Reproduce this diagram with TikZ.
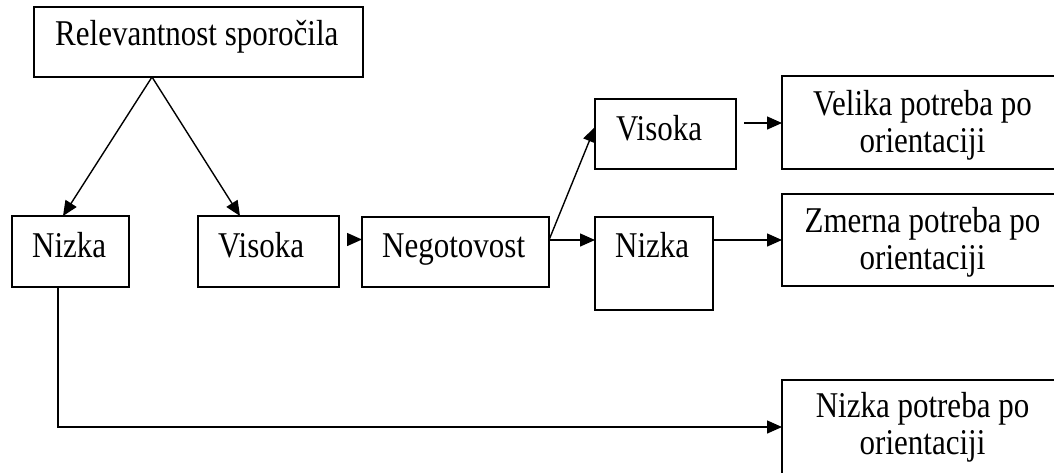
\documentclass[tikz,border=0pt]{standalone}
\usepackage{fontspec}
\setmainfont{Liberation Serif}
\usetikzlibrary{arrows.meta,calc}
% the lettering is set somewhat taller than wide
\newcommand{\tallword}[1]{\scalebox{1}[1.17]{#1}}
\begin{document}
\begin{tikzpicture}[x=1pt,y=-1pt,
  box/.style={draw, line width=1.6pt, inner sep=0pt, outer sep=0pt, anchor=north west},
  lbl/.style={font=\fontsize{31}{37}\selectfont, inner sep=0pt},
  twoline/.style={lbl, align=center, anchor=north},
  arr/.style={line width=1.4pt, -{Triangle[length=15pt,width=13pt]}}]
\useasboundingbox (0,0) rectangle (1054,472);

% boxes
\node[box, minimum width=329pt, minimum height=70pt] (rel)  at (34,7)   {};
\node[box, minimum width=117pt, minimum height=71pt] (nizL) at (12,216) {};
\node[box, minimum width=141pt, minimum height=71pt] (visM) at (198,216) {};
\node[box, minimum width=187pt, minimum height=70pt] (neg)  at (362,217) {};
\node[box, minimum width=141pt, minimum height=70pt] (visU) at (595,99)  {};
\node[box, minimum width=118pt, minimum height=93pt] (nizR) at (595,217) {};
\node[box, minimum width=281pt, minimum height=93pt] (vel)  at (782,76)  {};
\node[box, minimum width=281pt, minimum height=92pt] (zme)  at (782,194) {};
\node[box, minimum width=281pt, minimum height=94pt] (nizP) at (782,380) {};

% labels
\node[lbl, anchor=base west] (relT)  at ([xshift=21pt,yshift=-38pt]rel.north west)  {\tallword{Relevantnost sporočila}};
\node[lbl, anchor=base west] (nizLT) at ([xshift=20pt,yshift=-41pt]nizL.north west) {\tallword{Nizka}};
\node[lbl, anchor=base west] (visMT) at ([xshift=20pt,yshift=-41pt]visM.north west) {\tallword{Visoka}};
\node[lbl, anchor=base west] (negT)  at ([xshift=20pt,yshift=-40pt]neg.north west)  {\tallword{Negotovost}};
\node[lbl, anchor=base west] (visUT) at ([xshift=21pt,yshift=-41pt]visU.north west) {\tallword{Visoka}};
\node[lbl, anchor=base west] (nizRT) at ([xshift=20pt,yshift=-40pt]nizR.north west) {\tallword{Nizka}};
\node[twoline] (velT)  at ([yshift=-14pt]vel.north)  {\tallword{Velika potreba po}\\\tallword{orientaciji}};
\node[twoline] (zmeT)  at ([yshift=-13pt]zme.north)  {\tallword{Zmerna potreba po}\\\tallword{orientaciji}};
\node[twoline] (nizPT) at ([yshift=-12pt]nizP.north) {\tallword{Nizka potreba po}\\\tallword{orientaciji}};

% connectors
\draw[arr] ([xshift=118pt]rel.south west) -- ([xshift=51pt]nizL.north west);
\draw[arr] ([xshift=118pt]rel.south west) -- ([xshift=42pt]visM.north west);
\draw[arr, shorten <=8pt] ([yshift=12pt]visM.east) -- ([yshift=12pt]visM.east -| neg.west);
\draw[arr] ([yshift=12pt]neg.east) -- ([yshift=7pt]visU.west);
\draw[arr] ([yshift=12pt]neg.east) -- ([yshift=12pt]neg.east -| nizR.west);
\draw[arr, shorten <=8pt] ([yshift=11pt]visU.east) -- ([yshift=11pt]visU.east -| vel.west);
\draw[arr] (nizR.east |- zme.west) -- (zme.west);
\draw[arr] ([xshift=-12.5pt]nizL.south) |- (nizP.west);
\end{tikzpicture}
\end{document}
